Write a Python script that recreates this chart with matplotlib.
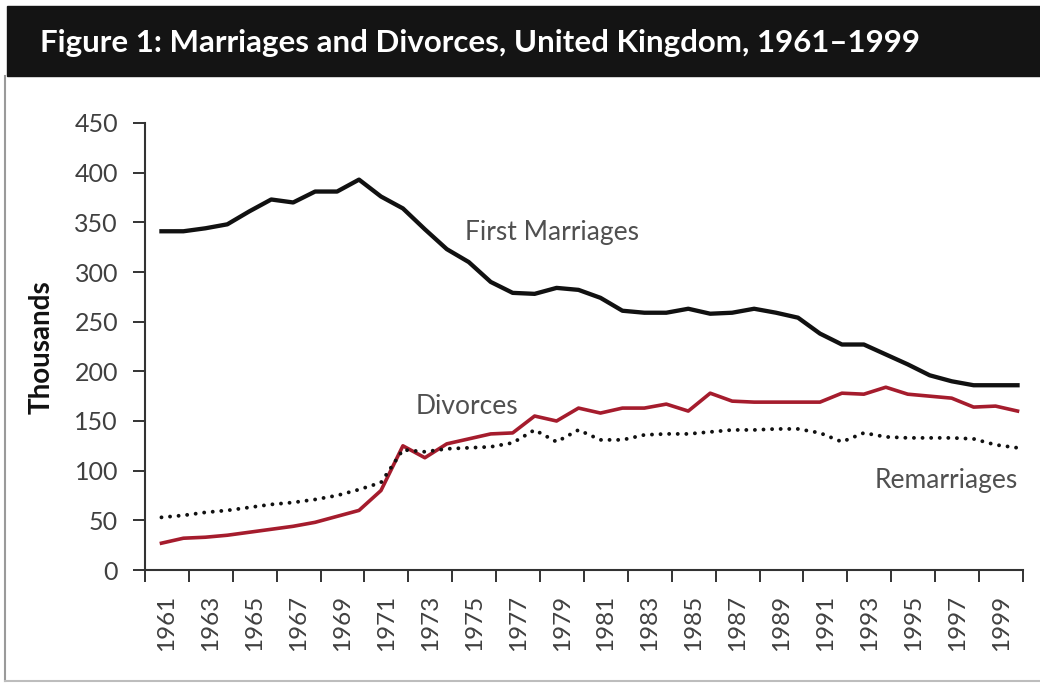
import matplotlib.pyplot as plt
from matplotlib.patches import Rectangle
from matplotlib.lines import Line2D

# Datos (miles)
years = list(range(1961, 2001))
first_marriages = [341, 341, 344, 348, 361, 373, 370, 381, 381, 393,
                   376, 364, 343, 323, 310, 290, 279, 278, 284, 282,
                   274, 261, 259, 259, 263, 258, 259, 263, 259, 254,
                   238, 227, 227, 217, 207, 196, 190, 186, 186, 186]
divorces = [27, 32, 33, 35, 38, 41, 44, 48, 54, 60,
            80, 125, 113, 127, 132, 137, 138, 155, 150, 163,
            158, 163, 163, 167, 160, 178, 170, 169, 169, 169,
            169, 178, 177, 184, 177, 175, 173, 164, 165, 160]
remarriages = [53, 55, 58, 60, 63, 66, 68, 71, 75, 81,
               88, 121, 119, 122, 123, 124, 128, 141, 129, 141,
               131, 131, 136, 137, 137, 139, 141, 141, 142, 142,
               138, 129, 138, 134, 133, 133, 133, 132, 126, 123]
label_years = list(range(1961, 2000, 2))
y_ticks = list(range(0, 451, 50))

title = 'Figure 1: Marriages and Divorces, United Kingdom, 1961\u20131999'

plt.rcParams['font.family'] = ['Lato', 'DejaVu Sans']

fig = plt.figure(figsize=(10.4, 6.84), dpi=100)

# Barra negra del titulo y marco gris
fig.patches.append(Rectangle((7 / 1040, 1 - 76 / 684), 1, 70 / 684,
                             transform=fig.transFigure, color='#141414'))
fig.text(40 / 1040, 1 - 43 / 684, title, color='white', fontsize=22.5,
         fontweight='bold', va='center', ha='left')
fig.add_artist(Line2D([5 / 1040, 5 / 1040], [3 / 684, 1 - 76 / 684],
                      transform=fig.transFigure, color='#9a9a9a', lw=1.5))
fig.add_artist(Line2D([5 / 1040, 1], [3 / 684, 3 / 684],
                      transform=fig.transFigure, color='#bdbdbd', lw=1.5))

ax = fig.add_axes([145 / 1040, 1 - 570 / 684, 878 / 1040, 447 / 684])

ax.plot(years, first_marriages, color='#111111', lw=3.1, clip_on=False)
ax.plot(years, divorces, color='#A51C2D', lw=2.6, clip_on=False)
ax.plot(years, remarriages, color='#111111', lw=2.8,
        linestyle=(0, (0.01, 2.2)), dash_capstyle='round', clip_on=False)

ax.set_xlim(1960.25, 2000.25)
ax.set_ylim(0, 450)
ax.set_yticks(y_ticks)

# Marcas entre categorias, etiquetas centradas entre ellas
ax.set_xticks([y - 0.75 for y in label_years] + [2000.25])
ax.set_xticklabels([])
ax.set_xticks([y + 0.25 for y in label_years], minor=True)
ax.set_xticklabels([str(y) for y in label_years], minor=True)

ax.tick_params(axis='x', which='major', length=8.6, width=1.4, color='#333333')
ax.tick_params(axis='x', which='minor', length=0, pad=18, rotation=90,
               labelsize=17.5, labelcolor='#404040')
ax.tick_params(axis='y', length=8.6, width=1.4, color='#333333', pad=10.8,
               labelsize=18, labelcolor='#404040')

for side in ['top', 'right']:
    ax.spines[side].set_visible(False)
for side in ['left', 'bottom']:
    ax.spines[side].set_color('#333333')
    ax.spines[side].set_linewidth(1.5)

fig.text(42 / 1040, 1 - 347 / 684, 'Thousands', rotation=90, fontsize=20,
         fontweight='bold', color='#111111', ha='center', va='center')

# Etiquetas de las series
ax.text(1974.85, 340, 'First Marriages', fontsize=19, color='#505050',
        ha='left', va='center')
ax.text(1972.6, 165, 'Divorces', fontsize=19, color='#505050',
        ha='left', va='center')
ax.text(2000.0, 90, 'Remarriages', fontsize=19, color='#505050',
        ha='right', va='center')

fig.savefig('out.png', dpi=100)
